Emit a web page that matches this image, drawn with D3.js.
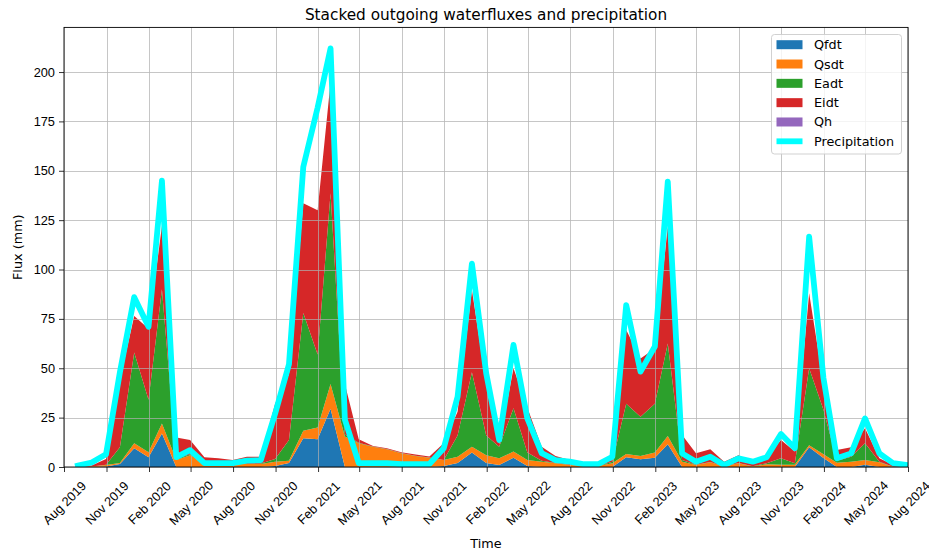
<!DOCTYPE html>
<html>
<head>
<meta charset="utf-8">
<script src="https://cdn.jsdelivr.net/npm/d3@7"></script>
<style>
  html, body { margin: 0; padding: 0; background: #fff; }
  svg { display: block; font-family: "DejaVu Sans", sans-serif; }
</style>
</head>
<body>
<svg id="chart" width="929" height="553"></svg>
<script>
// Monthly totals (mm), one value per month from Aug 2019 to Jul 2024, stamped at month end.
const Qfdt = [0, 0, 0.3, 1.5, 9.5, 5, 17, 0, 0, 0, 0, 0,
  0, 0, 0.5, 2, 14.5, 14, 29.5, 0, 0, 0, 0, 0,
  0, 0, 0.5, 2, 7.3, 2, 1, 4.7, 0.5, 0, 0, 0,
  0, 0, 0, 4.9, 3.9, 4.7, 11.5, 0, 0, 0, 0, 0,
  0, 0, 0, 0, 10, 4.5, 0, 0, 1.2, 0, 0, 0];
const Qsdt = [0, 0.3, 0.7, 0.5, 2.5, 2.5, 5, 3.5, 6, 2.5, 2, 2,
  1.5, 1.5, 2.2, 1.2, 3.9, 6, 12.5, 15.5, 12, 10.3, 9, 7,
  5.6, 4.7, 3, 3.2, 3, 4, 3.4, 3.1, 3, 2.7, 1.9, 1,
  0.5, 0.5, 1.9, 1.7, 1.7, 2.6, 4.2, 2.7, 1, 2.4, 0.2, 1.9,
  0.3, 1.4, 1.2, 1.2, 1, 2, 2.2, 2.7, 2.3, 2.4, 0, 0];
const Eadt = [0, 0, 0.2, 8, 46, 26.5, 68, 0.5, 0.5, 0.2, 0.2, 0.1,
  0.1, 0.3, 1.3, 10.5, 59.6, 37, 96.6, 1, 0.3, 0.1, 0.1, 0.1,
  0.1, 0.1, 0.1, 10.8, 37.7, 10, 5.9, 21.9, 3.8, 0.5, 0.1, 0.1,
  0, 0, 0.8, 25.4, 19.9, 24.7, 46.9, 0.8, 0.1, 0.1, 0.1, 0.1,
  0.1, 0.5, 3.2, 0.7, 39, 22.5, 1, 2.5, 8.5, 0.3, 0.1, 0];
const Eidt = [0.2, 0.5, 2.8, 34, 18.5, 36, 32, 11, 7.2, 2.3, 2.2, 1.4,
  3.6, 3.4, 28, 33.3, 55.5, 73, 56.4, 25.5, 1.7, 0.2, 0.4, 0.4,
  0.6, 0.5, 8.4, 12, 41.6, 26, 1.2, 20.3, 22.7, 7.1, 3.6, 2.4,
  1.4, 0.9, 0.8, 37.4, 29.5, 28, 59.1, 12.7, 5.9, 6.5, 2.4, 4,
  2.3, 3.3, 9.3, 5.9, 38, 13, 5.4, 4.8, 7.6, 1.7, 0.9, 0.5];
const Qh = [0, 0, 0, 0, 0, 0, 0, 0, 0, 0, 0, 0,
  0, 0, 0, 0, 0, 0, 0, 0, 0, 0, 0, 0,
  0, 0, 0, 0, 0, 0, 0, 0, 0, 0, 0, 0,
  0, 0, 0, 0, 0, 0, 0, 0, 0, 0, 0, 0,
  0, 0, 0, 0, 0, 0, 0, 0, 0, 0, 0, 0];
const precipitation = [0.7, 2.3, 6.5, 48, 86, 71, 145, 5, 8.5, 2, 2, 2,
  3.2, 3.5, 27, 52, 152, 182, 212, 24, 2, 1.9, 1.9, 1.4,
  1.4, 1.5, 9.5, 35.6, 103, 47.4, 13.7, 61.8, 24.6, 7, 3.5, 2.7,
  1.4, 1.4, 5.2, 82, 48.3, 61, 144.5, 6.9, 2.7, 5.2, 1, 4.4,
  2.7, 4.9, 16.7, 9.5, 116.6, 45, 4.4, 6.9, 24.6, 6.9, 1.9, 1];

const seriesNames = ["Qfdt", "Qsdt", "Eadt", "Eidt", "Qh"];
const seriesColors = ["#1f77b4", "#ff7f0e", "#2ca02c", "#d62728", "#9467bd"];
const precipColor = "#00ffff";
const yTicks = [0, 25, 50, 75, 100, 125, 150, 175, 200];

// Month-end time stamps and the quarterly date ticks
const firstMonth = new Date(Date.UTC(2019, 7, 1));
const endMonth = new Date(Date.UTC(2024, 7, 1));
const dates = d3.utcMonth.range(firstMonth, endMonth)
  .map(d => d3.utcDay.offset(d3.utcMonth.offset(d, 1), -1));
const xTickDates = d3.utcMonth.range(firstMonth, d3.utcMonth.offset(endMonth, 1), 3);

const svg = d3.select("#chart");
const W = 929, H = 553;
const m = { left: 64, right: 908, top: 27.4, bottom: 467 };

const layers = [Qfdt, Qsdt, Eadt, Eidt, Qh];
const rows = dates.map((d, i) => {
  const r = { date: d };
  seriesNames.forEach((n, k) => { r[n] = layers[k][i]; });
  return r;
});
const stacked = d3.stack().keys(seriesNames)(rows);

const x = d3.scaleUtc().domain([firstMonth, endMonth]).range([m.left, m.right]);
const yMax = Math.max(d3.max(precipitation), d3.max(stacked[stacked.length - 1], d => d[1])) * 1.05;
const y = d3.scaleLinear().domain([0, yMax]).range([m.bottom, m.top]);

svg.append("rect").attr("width", W).attr("height", H).attr("fill", "#fff");

svg.append("defs").append("clipPath").attr("id", "plotClip")
  .append("rect").attr("x", m.left).attr("y", m.top)
  .attr("width", m.right - m.left).attr("height", m.bottom - m.top);

const plot = svg.append("g").attr("clip-path", "url(#plotClip)");

// Stacked flux areas
const area = d3.area()
  .x(d => x(d.data.date))
  .y0(d => y(d[0]))
  .y1(d => y(d[1]));
plot.selectAll("path.layer").data(stacked).join("path")
  .attr("class", "layer")
  .attr("d", area)
  .attr("fill", (d, i) => seriesColors[i]);

// Grid drawn over the filled areas, under the precipitation line
const grid = svg.append("g").attr("stroke", "#b0b0b0").attr("stroke-width", 0.8).attr("opacity", 0.9);
grid.selectAll("line.gx").data(xTickDates).join("line")
  .attr("x1", d => Math.round(x(d)) + 0.5).attr("x2", d => Math.round(x(d)) + 0.5)
  .attr("y1", m.top).attr("y2", m.bottom);
grid.selectAll("line.gy").data(yTicks).join("line")
  .attr("y1", d => Math.round(y(d)) + 0.5).attr("y2", d => Math.round(y(d)) + 0.5)
  .attr("x1", m.left).attr("x2", m.right);

// Precipitation line
svg.append("g").attr("clip-path", "url(#plotClip)").append("path")
  .datum(precipitation)
  .attr("fill", "none")
  .attr("stroke", precipColor)
  .attr("stroke-width", 5.8)
  .attr("stroke-linejoin", "round")
  .attr("stroke-linecap", "square")
  .attr("d", d3.line().x((d, i) => x(dates[i])).y(d => y(d)));

// Axes
const xAxis = svg.append("g").attr("transform", `translate(0,${m.bottom})`)
  .call(d3.axisBottom(x).tickValues(xTickDates).tickFormat(d3.utcFormat("%b %Y")).tickSize(5).tickSizeOuter(0));
xAxis.select(".domain").remove();
xAxis.selectAll(".tick line").attr("stroke", "#000").attr("stroke-width", 0.8);
xAxis.selectAll(".tick text")
  .attr("font-size", 12.8)
  .attr("fill", "#000")
  .attr("text-anchor", "middle")
  .attr("dominant-baseline", "central")
  .attr("y", 0).attr("dy", null)
  .attr("transform", "translate(0,36) rotate(-45)");

const yAxis = svg.append("g").attr("transform", `translate(${m.left},0)`)
  .call(d3.axisLeft(y).tickValues(yTicks).tickSize(5).tickPadding(4).tickSizeOuter(0));
yAxis.select(".domain").remove();
yAxis.selectAll(".tick line").attr("stroke", "#000").attr("stroke-width", 0.8);
yAxis.selectAll(".tick text").attr("font-size", 12.8).attr("fill", "#000");

// Frame
svg.append("rect")
  .attr("x", m.left).attr("y", m.top)
  .attr("width", m.right - m.left).attr("height", m.bottom - m.top)
  .attr("fill", "none").attr("stroke", "#000").attr("stroke-width", 0.9);

// Titles
svg.append("text").attr("x", (m.left + m.right) / 2).attr("y", 20)
  .attr("text-anchor", "middle").attr("font-size", 15.3).attr("fill", "#000")
  .text("Stacked outgoing waterfluxes and precipitation");
svg.append("text").attr("x", (m.left + m.right) / 2).attr("y", 548)
  .attr("text-anchor", "middle").attr("font-size", 12.8).attr("fill", "#000")
  .text("Time");
svg.append("text")
  .attr("transform", `translate(22,${(m.top + m.bottom) / 2}) rotate(-90)`)
  .attr("text-anchor", "middle").attr("font-size", 12.8).attr("fill", "#000")
  .text("Flux (mm)");

// Legend
const legend = svg.append("g").attr("transform", "translate(771.5,34.5)");
legend.append("rect").attr("width", 130).attr("height", 119.5).attr("rx", 3)
  .attr("fill", "#fff").attr("fill-opacity", 0.8)
  .attr("stroke", "#cccccc").attr("stroke-width", 0.9);
const legendItems = seriesNames.map((n, i) => ({ name: n, color: seriesColors[i], line: false }))
  .concat([{ name: "Precipitation", color: precipColor, line: true }]);
const item = legend.selectAll("g.item").data(legendItems).join("g")
  .attr("class", "item")
  .attr("transform", (d, i) => `translate(0,${10.2 + i * 19.32})`);
item.filter(d => !d.line).append("rect")
  .attr("x", 5).attr("y", -4.5).attr("width", 26).attr("height", 9)
  .attr("fill", d => d.color);
item.filter(d => d.line).append("line")
  .attr("x1", 5).attr("x2", 31).attr("y1", 0).attr("y2", 0)
  .attr("stroke", d => d.color).attr("stroke-width", 5.8);
item.append("text").attr("x", 42.5).attr("y", 0)
  .attr("dominant-baseline", "central")
  .attr("font-size", 12.8).attr("fill", "#000")
  .text(d => d.name);
</script>
</body>
</html>
